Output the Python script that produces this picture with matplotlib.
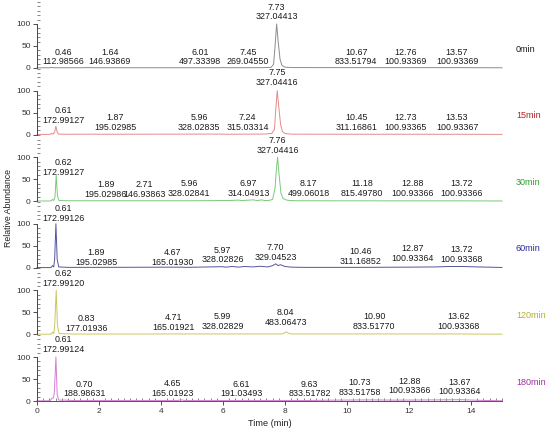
import matplotlib
matplotlib.use("Agg")
import matplotlib.pyplot as plt
from matplotlib.ticker import MultipleLocator

plt.rcParams['font.family'] = ['Liberation Sans', 'DejaVu Sans']

# sample names, trace colours and label colours
samples = ["0min", "15min", "30min", "60min", "120min", "180min"]
line_colors = ['#8c8c8c', '#e58a8a', '#7cc87c', '#55559a', '#c8c860', '#d47fd4']
name_colors = ['#1a1a1a', '#b22222', '#2e9e2e', '#2a2a96', '#b5b030', '#a030a0']

# chromatogram vertices (time, relative abundance)
rt_0 = [0, 0.40, 0.46, 0.52, 1.5, 1.64, 1.8, 5.9, 6.01, 6.15, 7.3, 7.45, 7.55, 7.63, 7.68, 7.73,
        7.78, 7.84, 7.90, 8.0, 8.2, 10.6, 10.67, 10.8, 12.7, 12.76, 12.85, 13.5, 13.57, 13.7, 15]
ab_0 = [0.5, 0.5, 1.5, 0.6, 0.6, 1.0, 0.6, 0.6, 1.0, 0.6, 0.8, 1.2, 1.5, 8, 50, 100,
        60, 20, 6, 2, 1, 0.8, 1.0, 0.8, 0.8, 1.0, 0.8, 0.8, 1.0, 0.8, 0.5]

rt_15 = [0, 0.42, 0.47, 0.52, 0.57, 0.61, 0.65, 0.70, 1.0, 1.87, 2.0, 5.96, 6.1, 7.24, 7.4, 7.58,
         7.66, 7.70, 7.75, 7.80, 7.86, 7.92, 8.0, 8.2, 10.45, 12.73, 13.53, 15]
ab_15 = [0.5, 0.5, 3, 1, 6, 19, 6, 1, 0.8, 1, 0.8, 1.2, 0.8, 1.2, 1.5, 3,
         12, 55, 100, 62, 22, 7, 2.5, 1, 0.8, 0.8, 0.8, 0.5]

rt_30 = [0, 0.45, 0.50, 0.54, 0.58, 0.62, 0.66, 0.71, 1.0, 1.89, 2.71, 5.0, 5.96, 6.2, 6.5, 6.6,
         6.97, 7.1, 7.25, 7.35, 7.5, 7.60, 7.68, 7.72, 7.76, 7.81, 7.87, 7.94, 8.05, 8.17, 8.4,
         11.18, 12.88, 13.72, 15]
ab_30 = [0.5, 0.5, 4, 1.5, 10, 59, 12, 1.5, 1, 1, 1, 1, 1.5, 1.5, 2.5, 1.5,
         3, 1.5, 3, 1.5, 2, 4, 30, 70, 100, 60, 18, 6, 2.5, 1.5, 1,
         0.8, 0.8, 0.8, 0.5]

rt_60 = [0, 0.45, 0.50, 0.54, 0.57, 0.61, 0.65, 0.70, 1.0, 1.89, 4.67, 4.8, 5.97, 6.1, 6.3, 6.5,
         6.7, 6.97, 7.2, 7.45, 7.6, 7.70, 7.78, 7.85, 8.0, 8.2, 8.6, 10.46, 12.0, 12.87, 13.3,
         13.72, 14.2, 15]
ab_60 = [0.5, 0.5, 5, 2, 20, 100, 20, 2, 1, 1, 1.5, 1, 2.5, 1.5, 3, 1.5,
         3, 2, 3.5, 2, 5, 9, 5, 7, 3, 1.5, 1, 1, 1.5, 2, 3,
         3, 2, 0.8]

rt_120 = [0, 0.45, 0.50, 0.54, 0.57, 0.62, 0.66, 0.71, 0.83, 1.2, 4.71, 5.99, 7.9, 7.98, 8.04,
          8.10, 8.2, 10.9, 13.62, 15]
ab_120 = [0.5, 0.5, 5, 2, 20, 100, 20, 2, 1.5, 0.8, 1, 1, 1, 3, 6,
          3, 1, 1, 1, 0.5]

rt_180 = [0, 0.42, 0.48, 0.53, 0.56, 0.61, 0.65, 0.70, 0.9, 1.2, 4.5, 4.65, 4.8, 8.5, 9.63,
          10.73, 11.5, 12.88, 13.67, 14.3, 15]
ab_180 = [0.5, 0.5, 6, 7, 20, 100, 15, 2, 2, 1, 1, 2.5, 1, 1, 2,
          2.5, 2, 2.5, 3, 1.5, 0.5]

traces = [(rt_0, ab_0), (rt_15, ab_15), (rt_30, ab_30),
          (rt_60, ab_60), (rt_120, ab_120), (rt_180, ab_180)]

# peak labels: retention time text, m/z text, label centre x, label height
lab_rt_0 = ["0.46", "1.64", "6.01", "7.45", "7.73", "10.67", "12.76", "13.57"]
lab_mz_0 = ["112.98566", "146.93869", "497.33398", "269.04550", "327.04413",
            "833.51794", "100.93369", "100.93369"]
lab_x_0 = [0.85, 2.35, 5.25, 6.80, 7.73, 10.30, 11.90, 13.55]
lab_y_0 = [14, 14, 14, 14, 116, 14, 14, 14]

lab_rt_15 = ["0.61", "1.87", "5.96", "7.24", "7.75", "10.45", "12.73", "13.53"]
lab_mz_15 = ["172.99127", "195.02985", "328.02835", "315.03314", "327.04416",
             "311.16861", "100.93365", "100.93367"]
lab_x_15 = [0.86, 2.53, 5.23, 6.79, 7.75, 10.30, 11.90, 13.55]
lab_y_15 = [32, 16, 16, 16, 118, 16, 16, 16]

lab_rt_30 = ["0.62", "1.89", "2.71", "5.96", "6.97", "7.76", "8.17", "11.18", "12.88", "13.72"]
lab_mz_30 = ["172.99127", "195.02986", "146.93863", "328.02841", "314.04913", "327.04416",
             "499.06018", "815.49780", "100.93366", "100.93366"]
lab_x_30 = [0.86, 2.21, 3.47, 4.90, 6.82, 7.76, 8.76, 10.48, 12.10, 13.69]
lab_y_30 = [66, 15, 15, 17, 18, 116, 17, 17, 18, 18]

lab_rt_60 = ["0.61", "1.89", "4.67", "5.97", "7.70", "10.46", "12.87", "13.72"]
lab_mz_60 = ["172.99126", "195.02985", "165.01930", "328.02826", "329.04523",
             "311.16852", "100.93364", "100.93368"]
lab_x_60 = [0.86, 1.91, 4.37, 5.99, 7.69, 10.43, 12.10, 13.69]
lab_y_60 = [113, 12, 13, 18, 23, 15, 21, 20]

lab_rt_120 = ["0.62", "0.83", "4.71", "5.99", "8.04", "10.90", "13.62"]
lab_mz_120 = ["172.99120", "177.01936", "165.01921", "328.02829", "483.06473",
              "833.51770", "100.93368"]
lab_x_120 = [0.86, 1.59, 4.40, 5.98, 8.02, 10.88, 13.60]
lab_y_120 = [116, 14, 16, 19, 27, 19, 19]

lab_rt_180 = ["0.61", "0.70", "4.65", "6.61", "9.63", "10.73", "12.88", "13.67"]
lab_mz_180 = ["172.99124", "188.98631", "165.01923", "191.03493", "833.51782",
              "833.51758", "100.93366", "100.93364"]
lab_x_180 = [0.85, 1.54, 4.38, 6.60, 8.79, 10.40, 12.02, 13.63]
lab_y_180 = [117, 16, 17.5, 16, 16, 19, 23, 21]

labels = [(lab_rt_0, lab_mz_0, lab_x_0, lab_y_0),
          (lab_rt_15, lab_mz_15, lab_x_15, lab_y_15),
          (lab_rt_30, lab_mz_30, lab_x_30, lab_y_30),
          (lab_rt_60, lab_mz_60, lab_x_60, lab_y_60),
          (lab_rt_120, lab_mz_120, lab_x_120, lab_y_120),
          (lab_rt_180, lab_mz_180, lab_x_180, lab_y_180)]

W, H = 550, 432
fig = plt.figure(figsize=(W / 100, H / 100), dpi=100)

left_px, right_px = 37, 502
zero0_px, step_px = 68, 66.6
ytop = step_px / 44 * 100   # 100 % is 44 px tall

axes = []
for i, name in enumerate(samples):
    zero_px = zero0_px + step_px * i
    ax = fig.add_axes([left_px / W, 1 - zero_px / H,
                       (right_px - left_px) / W, step_px / H])
    axes.append(ax)
    ax.set_xlim(0, 15)
    ax.set_ylim(0, ytop)
    ax.patch.set_alpha(0)

    rt, ab = traces[i]
    ax.plot(rt, ab, color=line_colors[i], lw=0.7, clip_on=False)

    for s in ['top', 'right']:
        ax.spines[s].set_visible(False)
    ax.spines['left'].set_bounds(0, 100)
    ax.spines['left'].set_color('#444444')
    ax.spines['left'].set_linewidth(0.7)

    ax.set_yticks([0, 50, 100])
    ax.yaxis.set_minor_locator(MultipleLocator(10))
    ax.tick_params(axis='y', which='major', direction='out', length=3, width=0.6,
                   pad=1.5, labelsize=6, colors='#333333')
    ax.tick_params(axis='y', which='minor', direction='in', length=2, width=0.5,
                   colors='#555555')

    if i < len(samples) - 1:
        ax.spines['bottom'].set_visible(False)
        ax.set_xticks([])
    else:
        ax.spines['bottom'].set_color('#555555')
        ax.spines['bottom'].set_linewidth(0.7)
        ax.set_xticks(range(0, 15, 2))
        ax.xaxis.set_minor_locator(MultipleLocator(0.2))
        ax.tick_params(axis='x', which='major', direction='out', length=3, width=0.6,
                       pad=2, labelsize=6, colors='#333333')
        ax.tick_params(axis='x', which='minor', direction='in', length=2, width=0.5,
                       colors='#555555')

    lrt, lmz, lx, ly = labels[i]
    for t, m, x, y in zip(lrt, lmz, lx, ly):
        ax.text(x, y, m, ha='center', va='center', fontsize=6.4, color='#1a1a1a',
                clip_on=False)
        ax.annotate(t, xy=(x, y), xytext=(0, 7), textcoords='offset points',
                    ha='center', va='center', fontsize=6.4, color='#1a1a1a',
                    annotation_clip=False)

    ax.text(15.45, 43, name, ha='left', va='center', fontsize=6.5,
            color=name_colors[i], clip_on=False)

fig.text(9 / W, 1 - 208 / H, "Relative Abundance", rotation=90, ha='center',
         va='center', fontsize=6.3, color='#222222')
fig.text(270 / W, 1 - 423 / H, "Time (min)", ha='center', va='center',
         fontsize=6.6, color='#222222')

fig.savefig("out.png", dpi=100)
